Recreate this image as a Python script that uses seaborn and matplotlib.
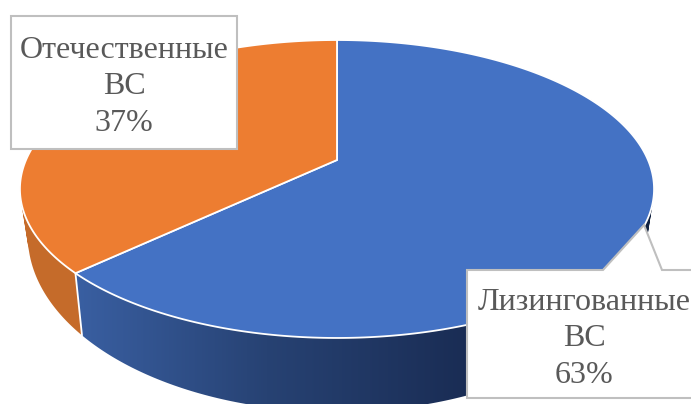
import matplotlib
matplotlib.use('Agg')
import matplotlib.pyplot as plt
from matplotlib.patches import PathPatch
from matplotlib.path import Path
import seaborn as sns
import numpy as np

categories = ['Лизингованные\nВС', 'Отечественные\nВС']
shares = [63, 37]

sns.set_theme(style='white')
plt.rcParams['font.family'] = ['Liberation Serif', 'DejaVu Serif']

# цвета: верх секторов и градиент боковой стенки
top_colors = ['#4472C4', '#ED7D31']
side_blue = sns.blend_palette(['#3A60A3', '#274273', '#1A2D55', '#10213F'], as_cmap=True)
side_orange = '#C56B2A'


# круг -> перспектива (угол от верха, по часовой стрелке)
def project(theta):
    x = np.sin(theta)
    y = np.cos(theta)
    d = 1 + 0.1946 * y
    return 337 + 311 * x / d, (160 - 112.2 * y) / d


def project_bottom(theta):
    px, py = project(theta)
    return 337 + (px - 337) * 0.975, 236 + (py - 189) * 1.18


# стенка из четырёхугольников одной ориентации, чтобы не было дыр на сгибах
def wall_path(start, stop, n=300):
    grid = np.linspace(start, stop, n)
    tx, ty = project(grid)
    bx, by = project_bottom(grid)
    quads = []
    for i in range(n - 1):
        q = np.array([[tx[i], ty[i]], [tx[i + 1], ty[i + 1]], [bx[i + 1], by[i + 1]], [bx[i], by[i]]])
        area = np.sum(q[:, 0] * np.roll(q[:, 1], -1) - np.roll(q[:, 0], -1) * q[:, 1])
        if area < 0:
            q = q[::-1]
        quads.append(Path(np.vstack([q, q[:1]]), closed=True))
    return Path.make_compound_path(*quads)


fig, ax = plt.subplots(figsize=(6.91, 4.04), dpi=100)
fig.subplots_adjust(0, 0, 1, 1)
ax.axis('off')

edges = np.concatenate([[0], np.cumsum(shares)]) / sum(shares) * 2 * np.pi

# боковая стенка: синяя с градиентом, оранжевая сплошная
wall = PathPatch(wall_path(edges[0], edges[1]), facecolor='none', edgecolor='none')
ax.add_patch(wall)
gradient = ax.imshow(np.linspace(0, 1, 256)[None, :], cmap=side_blue, aspect='auto',
                     extent=(70, 660, 404, 0), zorder=1)
gradient.set_clip_path(wall)
ax.add_patch(PathPatch(wall_path(edges[1], edges[2]), facecolor=side_orange, edgecolor='none', zorder=1))

# граница между секторами на стенке
x0, y0 = project(edges[1])
x1, y1 = project_bottom(edges[1])
ax.plot([x0, x1], [y0, y1], color='white', lw=1.3, zorder=2)

# верхняя грань
for i in range(len(shares)):
    grid = np.linspace(edges[i], edges[i + 1], 300)
    px, py = project(grid)
    ax.fill(np.r_[337, px], np.r_[160, py], facecolor=top_colors[i], edgecolor='white', lw=1.3, zorder=3)

# подписи-выноски
border = '#BFBFBF'
ax.fill([11, 237, 237, 11], [16, 16, 149, 149], facecolor='white', edgecolor=border, lw=1.5, zorder=4)
ax.fill([467, 603, 644, 662, 700, 700, 467], [270, 270, 225, 270, 270, 398, 398],
        facecolor='white', edgecolor=border, lw=1.5, zorder=4)

ax.text(124, 87, f'{categories[1]}\n{shares[1]}%', ha='center', va='center', fontsize=23,
        color='#595959', linespacing=1.33, zorder=5)
ax.text(584, 339, f'{categories[0]}\n{shares[0]}%', ha='center', va='center', fontsize=23,
        color='#595959', linespacing=1.33, zorder=5)

ax.set_xlim(0, 691)
ax.set_ylim(404, 0)
fig.savefig('out.png', dpi=100)
